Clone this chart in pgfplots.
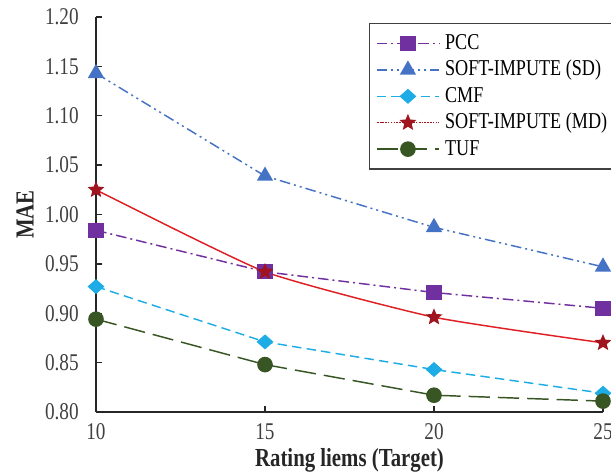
\documentclass[border=0pt]{standalone}
\usepackage{fontspec}
\setmainfont{Liberation Serif}[FakeStretch=0.8]
\usepackage{pgfplots}
\pgfplotsset{compat=1.18}
\definecolor{pcc}{RGB}{112,48,160}
\definecolor{sd}{RGB}{68,114,196}
\definecolor{cmf}{RGB}{30,172,230}
\definecolor{mdline}{RGB}{222,32,36}
\definecolor{mdmark}{RGB}{160,20,32}
\definecolor{tuf}{RGB}{55,86,35}
\definecolor{txt}{RGB}{64,64,64}
\pgfdeclareplotmark{fstar}{%
 \pgfpathmoveto{\pgfpointpolar{90}{\pgfplotmarksize}}%
 \pgfpathlineto{\pgfpointpolar{126}{0.45\pgfplotmarksize}}%
 \pgfpathlineto{\pgfpointpolar{162}{\pgfplotmarksize}}%
 \pgfpathlineto{\pgfpointpolar{198}{0.45\pgfplotmarksize}}%
 \pgfpathlineto{\pgfpointpolar{234}{\pgfplotmarksize}}%
 \pgfpathlineto{\pgfpointpolar{270}{0.45\pgfplotmarksize}}%
 \pgfpathlineto{\pgfpointpolar{306}{\pgfplotmarksize}}%
 \pgfpathlineto{\pgfpointpolar{342}{0.45\pgfplotmarksize}}%
 \pgfpathlineto{\pgfpointpolar{18}{\pgfplotmarksize}}%
 \pgfpathlineto{\pgfpointpolar{54}{0.45\pgfplotmarksize}}%
 \pgfpathclose\pgfusepathqfillstroke}
\begin{document}
\begin{tikzpicture}
\clip (-72pt,-47.25pt) rectangle (386.25pt,309pt);
\begin{axis}[
  scale only axis,
  width=380.25pt, height=296.25pt,
  xmin=10, xmax=25, ymin=0.8, ymax=1.2,
  axis x line=bottom, axis y line=left,
  axis line style={-, line width=1pt, black!85},
  tick align=inside, major tick length=4.5pt,
  tick style={line width=1pt, black!85},
  xtick={10,15,20,25},
  ytick={0.80,0.85,0.90,0.95,1.00,1.05,1.10,1.15,1.20},
  /pgf/number format/assume math mode=true,
  y tick label style={/pgf/number format/fixed, /pgf/number format/fixed zerofill, /pgf/number format/precision=2, xshift=-9.5pt},
  ticklabel style={font=\fontsize{18}{21}\selectfont, text=txt},
  x tick label style={yshift=-5pt},
  xlabel={\textbf{Rating liems (Target)}},
  ylabel={\textbf{MAE}},
  xlabel style={at={(axis description cs:0.5,-0.122)}, anchor=center, font=\fontsize{19.5}{22}\selectfont, text=black!85},
  ylabel style={at={(axis description cs:-0.14,0.5)}, anchor=center, font=\fontsize{19.5}{22}\selectfont, text=black!85},
  clip=false,
  legend cell align=left,
  legend style={at={(rel axis cs:0.538,0.9848)}, anchor=north west,
    draw=black!75, line width=1pt, fill=white,
    font=\fontsize{17}{19}\selectfont, row sep=0pt,
    inner xsep=5pt, inner ysep=5pt,
    nodes={text height=12.5pt, text depth=3.5pt, inner ysep=1.9pt, inner xsep=4pt}},
  legend image code/.code={\draw[mark repeat=2,mark phase=2,#1] plot coordinates {(0cm,0cm) (0.82cm,0cm) (1.64cm,0cm)};},
]
\addplot[pcc, line width=1.1pt, dash pattern=on 8pt off 3pt on 1.5pt off 3pt, mark=square*, mark size=5.2pt, mark options={solid, fill=pcc}]
  coordinates {(10,0.984) (15,0.942) (20,0.921) (25,0.905)};
\addlegendentry{PCC}
\addplot[sd, line width=1.1pt, dash pattern=on 8pt off 3pt on 1.5pt off 3pt on 1.5pt off 3pt, mark=triangle*, mark size=6pt, mark options={solid, fill=sd}]
  coordinates {(10,1.143) (15,1.039) (20,0.987) (25,0.947)};
\addlegendentry{SOFT-IMPUTE (SD)}
\addplot[cmf, line width=1.1pt, dash pattern=on 7pt off 4pt, mark=diamond*, mark size=4.9pt, mark options={solid, fill=cmf, xscale=1.5}]
  coordinates {(10,0.927) (15,0.871) (20,0.843) (25,0.819)};
\addlegendentry{CMF}
\addplot[mdline, line width=1.1pt, smooth, tension=0.3, mark=fstar, mark size=5.2pt, mark options={solid, fill=mdmark, draw=mdmark},
  legend image post style={densely dotted, draw=mdmark}]
  coordinates {(10,1.025) (15,0.942) (20,0.896) (25,0.870)};
\addlegendentry{SOFT-IMPUTE (MD)}
\addplot[tuf, line width=1.1pt, dash pattern=on 16pt off 6pt, mark=*, mark size=5.3pt, mark options={solid, fill=tuf}]
  coordinates {(10,0.894) (15,0.848) (20,0.817) (25,0.811)};
\addlegendentry{TUF}
\end{axis}
\end{tikzpicture}
\end{document}
